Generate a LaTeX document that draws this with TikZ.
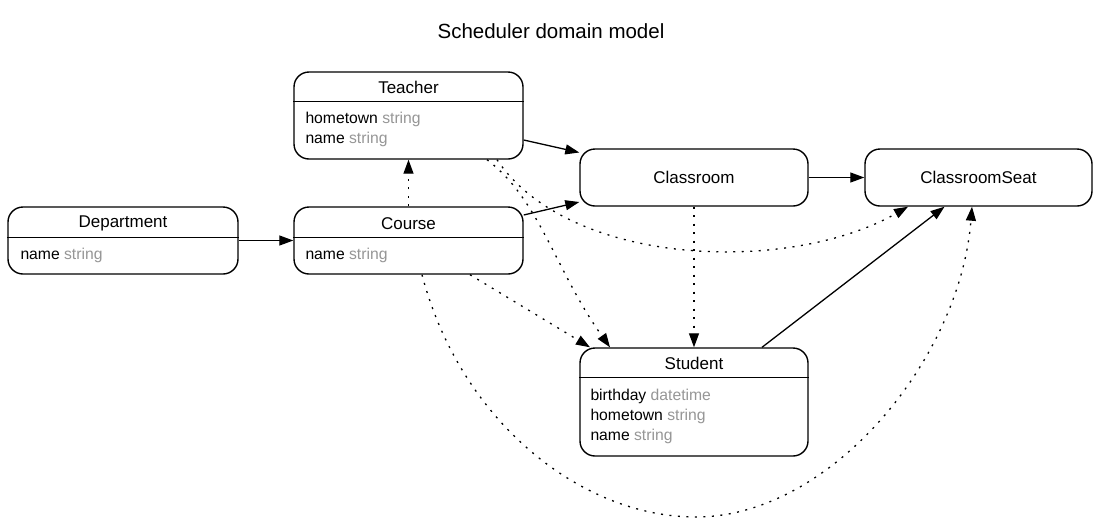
\documentclass[tikz,border=0pt]{standalone}
\usepackage{fontspec}
\setmainfont{Liberation Sans}
\usetikzlibrary{arrows.meta,calc}
\definecolor{typegray}{RGB}{150,150,150}
\begin{document}
\begin{tikzpicture}[x=1pt,y=-1pt,
  entity/.style={draw=black, line width=1.4pt, rounded corners=15pt, inner sep=0pt, fill=white},
  hdr/.style={font=\fontsize{17}{19}\selectfont, inner sep=0pt},
  attr/.style={font=\fontsize{15.7}{19}\selectfont, inner sep=0pt, anchor=base west},
  divider/.style={line width=1.4pt},
  rel/.style={line width=1.3pt, -{Triangle[length=14pt,width=10pt]}},
  dep/.style={rel, dash pattern=on 2pt off 6.5pt},
  ]
\fill[white] (0,0) rectangle (1120,528);
\useasboundingbox (0,0) rectangle (1120,528);

\node[font=\fontsize{20.5}{24}\selectfont, inner sep=0pt] (title) at (551,31) {Scheduler domain model};

% entities
\node[entity, minimum width=229pt, minimum height=87pt] (teacher) at (408.5,115.5) {};
\node[entity, minimum width=229pt, minimum height=67pt] (course) at (408.5,240.5) {};
\node[entity, minimum width=230pt, minimum height=67pt] (dept) at (123,240.5) {};
\node[entity, minimum width=228pt, minimum height=57pt] (classroom) at (694,177.5) {};
\node[entity, minimum width=227pt, minimum height=57pt] (seat) at (978.5,177.5) {};
\node[entity, minimum width=228pt, minimum height=108pt] (student) at (694,402) {};

% dividers
\draw[divider] ([yshift=-30pt]teacher.north west) -- ([yshift=-30pt]teacher.north east);
\draw[divider] ([yshift=-31pt]course.north west) -- ([yshift=-31pt]course.north east);
\draw[divider] ([yshift=-31pt]dept.north west) -- ([yshift=-31pt]dept.north east);
\draw[divider] ([yshift=-30pt]student.north west) -- ([yshift=-30pt]student.north east);

% headers
\node[hdr] (teacherT) at ([yshift=-16pt]teacher.north) {Teacher};
\node[hdr] (courseT) at ([yshift=-17pt]course.north) {Course};
\node[hdr] (deptT) at ([yshift=-17pt]dept.north) {Department};
\node[hdr] (classroomT) at (classroom.center) {Classroom};
\node[hdr] (seatT) at (seat.center) {ClassroomSeat};
\node[hdr] (studentT) at ([yshift=-16pt]student.north) {Student};

% attributes
\node[attr] (teacherA1) at ([xshift=12pt,yshift=-52pt]teacher.north west) {hometown \textcolor{typegray}{string}};
\node[attr] (teacherA2) at ([xshift=12pt,yshift=-72pt]teacher.north west) {name \textcolor{typegray}{string}};
\node[attr] (courseA1) at ([xshift=12pt,yshift=-53pt]course.north west) {name \textcolor{typegray}{string}};
\node[attr] (deptA1) at ([xshift=13pt,yshift=-53pt]dept.north west) {name \textcolor{typegray}{string}};
\node[attr] (studentA1) at ([xshift=11pt,yshift=-53pt]student.north west) {birthday \textcolor{typegray}{datetime}};
\node[attr] (studentA2) at ([xshift=11pt,yshift=-73pt]student.north west) {hometown \textcolor{typegray}{string}};
\node[attr] (studentA3) at ([xshift=11pt,yshift=-93pt]student.north west) {name \textcolor{typegray}{string}};

% solid relations
\draw[rel] (dept.east) -- (course.west);
\draw[rel] ([yshift=-24.5pt]teacher.east) -- ([yshift=25pt]classroom.west);
\draw[rel] ([yshift=25.5pt]course.east) -- ([yshift=-24.5pt]classroom.west);
\draw[rel] (classroom.east) -- (seat.west);
\draw[rel] ([xshift=68pt]student.north) -- ([xshift=-34pt]seat.south);

% dotted relations
\draw[dep] (course.north) -- (teacher.south);
\draw[dep] (classroom.south) -- (student.north);
\draw[dep] ([xshift=61.5pt]course.south) -- ([xshift=-104pt]student.north);
\draw[dep] ([xshift=78.5pt]teacher.south) .. controls (540,200) and (555,270) .. ([xshift=-84pt]student.north);
\draw[dep] ([xshift=88.5pt]teacher.south) .. controls (570,268) and (790,274) .. ([xshift=-70.5pt]seat.south);
\draw[dep] ([xshift=13.5pt]course.south) .. controls (460,420) and (580,517) .. (696,517)
  .. controls (830,517) and (960,360) .. ([xshift=-6.5pt]seat.south);
\end{tikzpicture}
\end{document}
